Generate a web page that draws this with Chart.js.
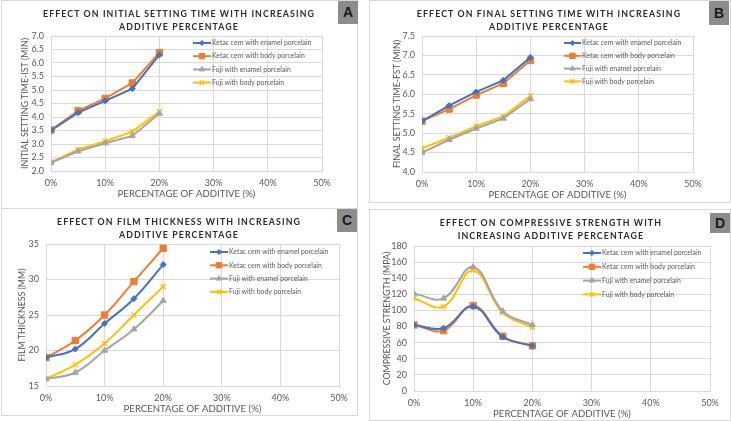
<!DOCTYPE html>
<html>
<head>
<meta charset="utf-8">
<script src="https://cdn.jsdelivr.net/npm/chart.js@4/dist/chart.umd.min.js"></script>
<style>
  html, body { margin:0; padding:0; background:#fff; }
  #wrap { position:relative; width:731px; height:421px; overflow:hidden; background:#fff; }
  .frame { position:absolute; border:1px solid #d9d9d9; box-sizing:border-box; }
  canvas { position:absolute; }
  .title { position:absolute; text-align:center; font-family:Lato, "DejaVu Sans", sans-serif; font-weight:bold;
           font-size:8.8px; letter-spacing:1.1px; color:#2b2b2b; line-height:13px; white-space:nowrap; }
  .tag { position:absolute; background:#8c8c8c; color:#1a1a1a; font-family:"Liberation Sans", Arial, sans-serif;
         font-weight:bold; font-size:14px; text-align:center; }
</style>
</head>
<body>
<div id="wrap">
  <div class="frame" style="left:1px;top:0px;width:357px;height:209px"></div>
  <div class="frame" style="left:369px;top:0px;width:362px;height:203px"></div>
  <div class="frame" style="left:1px;top:208px;width:357px;height:208px"></div>
  <div class="frame" style="left:369px;top:209px;width:362px;height:212px"></div>

  <canvas id="cA" width="365" height="205" style="left:0px;top:0px"></canvas>
  <canvas id="cB" width="366" height="205" style="left:365px;top:0px"></canvas>
  <canvas id="cC" width="365" height="216" style="left:0px;top:205px"></canvas>
  <canvas id="cD" width="366" height="216" style="left:365px;top:205px"></canvas>

  <div class="title" style="left:29px;width:300px;top:7px">EFFECT ON INITIAL SETTING TIME WITH INCREASING<br>ADDITIVE PERCENTAGE</div>
  <div class="title" style="left:399px;width:300px;top:7px">EFFECT ON FINAL SETTING TIME WITH INCREASING<br>ADDITIVE PERCENTAGE</div>
  <div class="title" style="left:29px;width:300px;top:215px">EFFECT ON FILM THICKNESS WITH INCREASING<br>ADDITIVE PERCENTAGE</div>
  <div class="title" style="left:401px;width:300px;top:216px">EFFECT ON COMPRESSIVE STRENGTH WITH<br>INCREASING ADDITIVE PERCENTAGE</div>

  <div class="tag" style="left:338px;top:1px;width:20px;height:23px;line-height:23px">A</div>
  <div class="tag" style="left:709px;top:1px;width:20px;height:24px;line-height:24px">B</div>
  <div class="tag" style="left:337px;top:209px;width:20px;height:23px;line-height:23px">C</div>
  <div class="tag" style="left:710px;top:213px;width:20px;height:20px;line-height:20px">D</div>
</div>
<script>
// ---------- DATA ----------
const additivePct = [0, 5, 10, 15, 20];
const seriesNames = ['Ketac cem with enamel porcelain', 'Ketac cem with body porcelain',
                     'Fuji with enamel porcelain', 'Fuji with body porcelain'];
const xAxisTitle = 'PERCENTAGE OF ADDITIVE (%)';

// A: initial setting time (min)
const istKetacEnamel = [3.5, 4.16, 4.6, 5.05, 6.3];
const istKetacBody   = [3.52, 4.23, 4.69, 5.26, 6.38];
const istFujiEnamel  = [2.3, 2.73, 3.03, 3.3, 4.13];
const istFujiBody    = [2.32, 2.8, 3.1, 3.46, 4.2];

// B: final setting time (min)
const fstKetacEnamel = [5.31, 5.71, 6.06, 6.36, 6.95];
const fstKetacBody   = [5.31, 5.62, 5.98, 6.28, 6.87];
const fstFujiEnamel  = [4.5, 4.83, 5.12, 5.38, 5.88];
const fstFujiBody    = [4.61, 4.88, 5.18, 5.43, 5.96];

// C: film thickness
const ftKetacEnamel = [19, 20.2, 23.8, 27.3, 32.1];
const ftKetacBody   = [19, 21.4, 25, 29.7, 34.4];
const ftFujiEnamel  = [16, 16.9, 20, 23, 27];
const ftFujiBody    = [16, 18, 21, 25, 29];

// D: compressive strength
const csKetacEnamel = [82, 78, 105, 67, 56];
const csKetacBody   = [82, 75, 106, 68, 56];
const csFujiEnamel  = [121, 115, 154, 99, 82];
const csFujiBody    = [115, 105, 150, 97, 79];

// ---------- STYLE ----------
const seriesStyle = [
  {color:'#4472C4', pointStyle:'rectRot', radius:3, pbw:1},
  {color:'#ED7D31', pointStyle:'rect', radius:4.5, pbw:1},
  {color:'#A5A5A5', pointStyle:'triangle', radius:3.5, pbw:1},
  {color:'#FFC000', pointStyle:'crossRot', radius:3.5, pbw:1.5}
];
const FONT = 'Lato, "DejaVu Sans", sans-serif';
const TXT = '#595959';
const GRID = '#d9d9d9';

const legendPlugin = {
  id: 'inlineLegend',
  afterDatasetsDraw(chart, args, o) {
    const ctx = chart.ctx;
    ctx.save();
    chart.data.datasets.forEach((ds, i) => {
      const y = o.y + i * o.gap;
      ctx.strokeStyle = ds.borderColor;
      ctx.lineWidth = 2;
      ctx.beginPath(); ctx.moveTo(o.x, y); ctx.lineTo(o.x + o.len, y); ctx.stroke();
      ctx.fillStyle = ds.pointBackgroundColor;
      ctx.strokeStyle = ds.borderColor;
      ctx.lineWidth = ds.pointBorderWidth;
      Chart.helpers.drawPoint(ctx, {pointStyle: ds.pointStyle, radius: ds.pointRadius * 0.85,
        borderWidth: ds.pointBorderWidth, rotation: 0}, o.x + o.len / 2, y);
      ctx.fillStyle = TXT;
      ctx.font = '6.9px ' + FONT;
      ctx.textAlign = 'left';
      ctx.textBaseline = 'middle';
      ctx.fillText(ds.label, o.x + o.len + 1, y);
    });
    ctx.restore();
  }
};

function makeChart(id, c) {
  const el = document.getElementById(id);
  const W = el.width, H = el.height;
  const tickFont = {family: FONT, size: 9};
  const xTitleFont = {family: FONT, size: 9.6};
  const yTitleFont = {family: FONT, size: 8.8};
  const xlh = 9.6 * 1.2, ylh = 8.8 * 1.2;
  const datasets = c.series.map((vals, i) => {
    const s = seriesStyle[i];
    return {
      label: seriesNames[i],
      data: additivePct.map((x, k) => ({x: x, y: vals[k]})),
      borderColor: s.color,
      backgroundColor: s.color,
      pointBackgroundColor: s.color,
      pointBorderColor: s.color,
      pointStyle: s.pointStyle,
      pointRadius: s.radius,
      pointBorderWidth: s.pbw,
      borderWidth: 2,
      tension: c.smooth ? 0.4 : 0
    };
  });
  return new Chart(el, {
    type: 'line',
    data: {datasets},
    options: {
      responsive: false,
      animation: false,
      events: [],
      layout: {padding: {left: 0, top: c.T, right: W - c.R, bottom: 0}},
      plugins: {
        legend: {display: false},
        tooltip: {enabled: false},
        inlineLegend: c.legend
      },
      scales: {
        x: {
          type: 'linear', min: 0, max: 50,
          grid: {color: GRID, drawTicks: false},
          border: {color: GRID},
          ticks: {stepSize: 10, font: tickFont, color: TXT, padding: c.xTickPad, autoSkip: false,
                  maxRotation: 0, callback: v => v + '%'},
          title: {display: true, text: xAxisTitle, font: xTitleFont, color: TXT,
                  padding: {top: 0, bottom: H - c.xTitleY - xlh / 2}},
          afterFit: s => { s.height = H - c.B; }
        },
        y: {
          min: c.ymin, max: c.ymax,
          grid: {color: GRID, drawTicks: false},
          border: {color: GRID},
          ticks: {stepSize: c.ystep, font: tickFont, color: TXT, padding: 7, autoSkip: false,
                  callback: v => c.dec ? v.toFixed(1) : v},
          title: {display: true, text: c.yTitle, font: yTitleFont, color: TXT,
                  padding: {top: c.yTitleX - ylh / 2, bottom: 0}},
          afterFit: s => { s.width = c.L; }
        }
      }
    },
    plugins: [legendPlugin]
  });
}

makeChart('cA', {
  series: [istKetacEnamel, istKetacBody, istFujiEnamel, istFujiBody],
  ymin: 2, ymax: 7, ystep: 0.5, dec: true, smooth: false,
  yTitle: 'INITIAL SETTING TIME-IST (MIN)',
  L: 51, R: 322, T: 36, B: 171, yTitleX: 25, xTickPad: 7, xTitleY: 194,
  legend: {x: 193, y: 43, gap: 13.2, len: 18}
});
makeChart('cB', {
  series: [fstKetacEnamel, fstKetacBody, fstFujiEnamel, fstFujiBody],
  ymin: 4, ymax: 7.5, ystep: 0.5, dec: true, smooth: false,
  yTitle: 'FINAL SETTING TIME-FST (MIN)',
  L: 57, R: 328, T: 36, B: 172, yTitleX: 32, xTickPad: 7, xTitleY: 195,
  legend: {x: 199, y: 43, gap: 12.8, len: 17}
});
makeChart('cC', {
  series: [ftKetacEnamel, ftKetacBody, ftFujiEnamel, ftFujiBody],
  ymin: 15, ymax: 35, ystep: 5, dec: false, smooth: true,
  yTitle: 'FILM THICKNESS (MM)',
  L: 46, R: 339, T: 39, B: 181, yTitleX: 22, xTickPad: 7, xTitleY: 204,
  legend: {x: 210, y: 47, gap: 13.3, len: 18}
});
makeChart('cD', {
  series: [csKetacEnamel, csKetacBody, csFujiEnamel, csFujiBody],
  ymin: 0, ymax: 180, ystep: 20, dec: false, smooth: true,
  yTitle: 'COMPRESSIVE STRENGTH (MPA)',
  L: 49, R: 345, T: 41, B: 186, yTitleX: 22, xTickPad: 7, xTitleY: 209,
  legend: {x: 218, y: 48, gap: 13.8, len: 18}
});
</script>
</body>
</html>
